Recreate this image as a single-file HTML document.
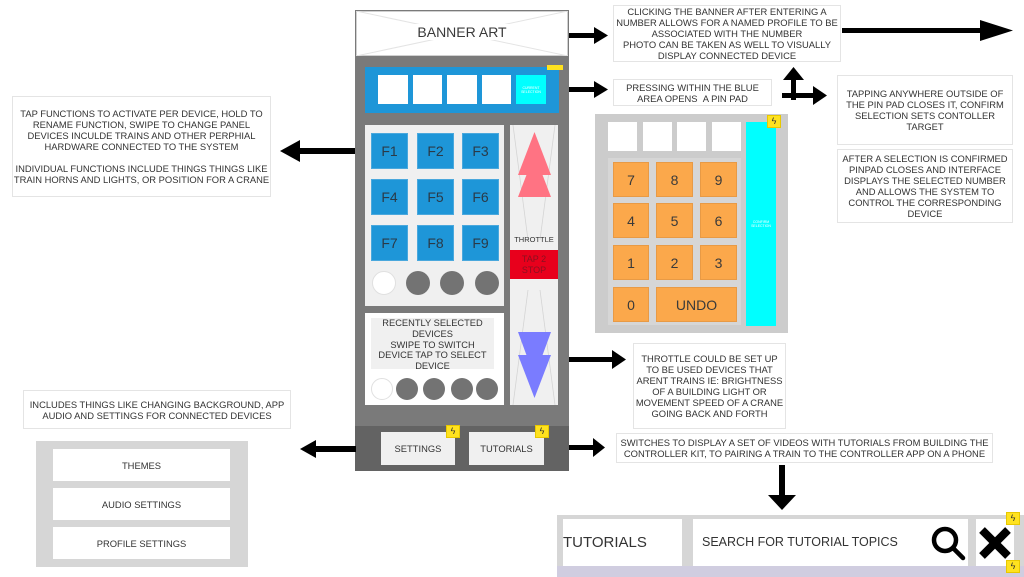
<!DOCTYPE html>
<html><head><meta charset="utf-8"><style>
*{margin:0;padding:0;box-sizing:border-box}
body{width:1024px;height:577px;background:#fff;position:relative;overflow:hidden;font-family:"Liberation Sans",Arial,sans-serif;color:#333}
.a{position:absolute}
.note{position:absolute;background:#fff;border:1px solid #e4e4e4;font-size:9.4px;line-height:11px;text-align:center;display:flex;align-items:center;justify-content:center;color:#333;white-space:nowrap}
.w{position:absolute;background:#fff}
.f{position:absolute;background:#1e96d8;width:37px;height:36px;font-size:14px;display:flex;align-items:center;justify-content:center;color:#2a3a48;border:1px solid #4aa8dd}
.k{position:absolute;background:#fba84b;width:36px;height:35px;font-size:14px;display:flex;align-items:center;justify-content:center;color:#3a3a3a;border:1px solid #e89a45}
.c{position:absolute;border-radius:50%;background:#737373}
.badge{position:absolute;width:14px;height:13px;background:#ffe21f;border:1px solid #e8c800;font-size:9px;line-height:11px;text-align:center;color:#333}
.btn{position:absolute;background:#fff;font-size:9.4px;display:flex;align-items:center;justify-content:center;color:#333}
</style></head><body>

<!-- Phone -->
<div class="a" style="left:355px;top:10px;width:214px;height:461px;background:#7a7a7a"></div>
<div class="a" style="left:356px;top:11px;width:212px;height:45px;background:#fff;border:1px solid #d0d0d0"></div>
<svg class="a" style="left:356px;top:11px" width="212" height="45"><line x1="0" y1="0" x2="212" y2="45" stroke="#e4e4e4"/><line x1="212" y1="0" x2="0" y2="45" stroke="#e4e4e4"/></svg>
<div class="a" style="left:356px;top:24px;width:212px;text-align:center;font-size:14px;color:#3a3a3a;background:transparent"><span style="background:#fff;padding:0 2px">BANNER ART</span></div>

<!-- blue bar -->
<div class="a" style="left:365px;top:67px;width:194px;height:46px;background:#1e96d8"></div>
<div class="w" style="left:378px;top:75px;width:30px;height:29px"></div>
<div class="w" style="left:413px;top:75px;width:29px;height:29px"></div>
<div class="w" style="left:447px;top:75px;width:30px;height:29px"></div>
<div class="w" style="left:482px;top:75px;width:29px;height:29px"></div>
<div class="a" style="left:516px;top:75px;width:30px;height:29px;background:#00ffff;font-size:3.5px;color:#fff;text-align:center;display:flex;align-items:center;justify-content:center;line-height:4px">CURRENT<br>SELECTION</div>
<div class="a" style="left:547px;top:65px;width:16px;height:5px;background:#ffe21f"></div>

<!-- function panel -->
<div class="a" style="left:365px;top:125px;width:139px;height:181px;background:#f0f0f0"></div>
<div class="f" style="left:371px;top:133px">F1</div>
<div class="f" style="left:417px;top:133px">F2</div>
<div class="f" style="left:462px;top:133px">F3</div>
<div class="f" style="left:371px;top:179px">F4</div>
<div class="f" style="left:417px;top:179px">F5</div>
<div class="f" style="left:462px;top:179px">F6</div>
<div class="f" style="left:371px;top:225px">F7</div>
<div class="f" style="left:417px;top:225px">F8</div>
<div class="f" style="left:462px;top:225px">F9</div>
<div class="c" style="left:372px;top:271px;width:24px;height:24px;background:#fff;border:1px solid #e0e0e0"></div>
<div class="c" style="left:406px;top:271px;width:24px;height:24px"></div>
<div class="c" style="left:440px;top:271px;width:24px;height:24px"></div>
<div class="c" style="left:475px;top:271px;width:24px;height:24px"></div>

<!-- recently panel -->
<div class="a" style="left:365px;top:313px;width:139px;height:92px;background:#fff"></div>
<div class="a" style="left:371px;top:318px;width:123px;height:51px;background:#f0f0f0;font-size:9.3px;line-height:10.8px;text-align:center;color:#333;white-space:nowrap">RECENTLY SELECTED<br>DEVICES<br>SWIPE TO SWITCH<br>DEVICE TAP TO SELECT<br>DEVICE</div>
<div class="c" style="left:371px;top:378px;width:22px;height:22px;background:#fff;border:1px solid #e0e0e0"></div>
<div class="c" style="left:396px;top:378px;width:22px;height:22px"></div>
<div class="c" style="left:423px;top:378px;width:22px;height:22px"></div>
<div class="c" style="left:451px;top:378px;width:22px;height:22px"></div>
<div class="c" style="left:476px;top:378px;width:22px;height:22px"></div>

<!-- throttle -->
<div class="a" style="left:510px;top:125px;width:48px;height:280px;background:#f0f0f0"></div>
<svg class="a" style="left:510px;top:125px" width="48" height="280">
<line x1="3" y1="0" x2="18" y2="115" stroke="#d4d4d4" stroke-width="0.8"/>
<line x1="45" y1="0" x2="30" y2="115" stroke="#d4d4d4" stroke-width="0.8"/>
<line x1="18" y1="165" x2="3" y2="280" stroke="#d4d4d4" stroke-width="0.8"/>
<line x1="30" y1="165" x2="45" y2="280" stroke="#d4d4d4" stroke-width="0.8"/>
<polygon points="24.5,7 8,50 41,50" fill="#ff7383"/>
<polygon points="24.5,29 8,72 41,72" fill="#ff7383"/>
<polygon points="8,207 41,207 24.5,252" fill="#7a7cff"/>
<polygon points="8,230 41,230 24.5,273" fill="#7a7cff"/>
</svg>
<div class="a" style="left:510px;top:235px;width:48px;text-align:center;font-size:7.5px;color:#333">THROTTLE</div>
<div class="a" style="left:510px;top:250px;width:48px;height:29px;background:#e8001c;font-size:9px;line-height:10.5px;text-align:center;color:#8a1020;padding-top:4px">TAP 2<br>STOP</div>

<!-- bottom bar -->
<div class="a" style="left:355px;top:426px;width:214px;height:45px;background:#636363"></div>
<div class="btn" style="left:381px;top:432px;width:74px;height:33px;background:#f0f0f0">SETTINGS</div>
<div class="btn" style="left:469px;top:432px;width:75px;height:33px;background:#f0f0f0">TUTORIALS</div>
<div class="badge" style="left:446px;top:425px">ϟ</div>
<div class="badge" style="left:535px;top:425px">ϟ</div>

<!-- arrows -->
<svg class="a" style="left:0;top:0" width="1024" height="577">
<g fill="#000">
<rect x="569" y="33" width="26" height="5"/><polygon points="594,27 608,35.5 594,44"/>
<rect x="842" y="28" width="142" height="5"/><polygon points="980,20 1013,30.5 980,41"/>
<rect x="569" y="87" width="26" height="5"/><polygon points="594,81 608,89.5 594,98"/>
<rect x="791" y="78" width="5" height="22"/><polygon points="783,80 793.5,67 804,80"/>
<rect x="782" y="93" width="32" height="5"/><polygon points="813,86 827,95.5 813,105"/>
<rect x="298" y="148" width="57" height="6"/><polygon points="300,140 280,151 300,162"/>
<rect x="569" y="357" width="44" height="5"/><polygon points="612,350 626,359.5 612,369"/>
<rect x="314" y="446" width="42" height="6"/><polygon points="316,440 300,449 316,458"/>
<rect x="569" y="445" width="25" height="5"/><polygon points="593,438 605,447.5 593,457"/>
<rect x="779" y="465" width="6" height="32"/><polygon points="768,495 782,510 796,495"/>
</g>
</svg>

<!-- notes -->
<div class="note" style="left:613px;top:5px;width:228px;height:57px">CLICKING THE BANNER AFTER ENTERING A<br>NUMBER ALLOWS FOR A NAMED PROFILE TO BE<br>ASSOCIATED WITH THE NUMBER<br>PHOTO CAN BE TAKEN AS WELL TO VISUALLY<br>DISPLAY CONNECTED DEVICE</div>
<div class="note" style="left:613px;top:79px;width:159px;height:27px">PRESSING WITHIN THE BLUE<br>AREA OPENS &nbsp;A PIN PAD</div>
<div class="note" style="left:837px;top:75px;width:176px;height:70px">TAPPING ANYWHERE OUTSIDE OF<br>THE PIN PAD CLOSES IT, CONFIRM<br>SELECTION SETS CONTOLLER<br>TARGET</div>
<div class="note" style="left:837px;top:149px;width:176px;height:74px">AFTER A SELECTION IS CONFIRMED<br>PINPAD CLOSES AND INTERFACE<br>DISPLAYS THE SELECTED NUMBER<br>AND ALLOWS THE SYSTEM TO<br>CONTROL THE CORRESPONDING<br>DEVICE</div>
<div class="note" style="left:12px;top:96px;width:259px;height:101px">TAP FUNCTIONS TO ACTIVATE PER DEVICE, HOLD TO<br>RENAME FUNCTION, SWIPE TO CHANGE PANEL<br>DEVICES INCULDE TRAINS AND OTHER PERPHIAL<br>HARDWARE CONNECTED TO THE SYSTEM<br><br>INDIVIDUAL FUNCTIONS INCLUDE THINGS THINGS LIKE<br>TRAIN HORNS AND LIGHTS, OR POSITION FOR A CRANE</div>
<div class="note" style="left:633px;top:343px;width:153px;height:86px">THROTTLE COULD BE SET UP<br>TO BE USED DEVICES THAT<br>ARENT TRAINS IE: BRIGHTNESS<br>OF A BUILDING LIGHT OR<br>MOVEMENT SPEED OF A CRANE<br>GOING BACK AND FORTH</div>
<div class="note" style="left:23px;top:390px;width:268px;height:39px">INCLUDES THINGS LIKE CHANGING BACKGROUND, APP<br>AUDIO AND SETTINGS FOR CONNECTED DEVICES</div>
<div class="note" style="left:616px;top:433px;width:377px;height:30px">SWITCHES TO DISPLAY A SET OF VIDEOS WITH TUTORIALS FROM BUILDING THE<br>CONTROLLER KIT, TO PAIRING A TRAIN TO THE CONTROLLER APP ON A PHONE</div>

<!-- pinpad -->
<div class="a" style="left:595px;top:114px;width:193px;height:219px;background:#cccccc"></div>
<div class="w" style="left:608px;top:122px;width:29px;height:29px"></div>
<div class="w" style="left:643px;top:122px;width:29px;height:29px"></div>
<div class="w" style="left:677px;top:122px;width:29px;height:29px"></div>
<div class="w" style="left:712px;top:122px;width:29px;height:29px"></div>
<div class="a" style="left:608px;top:158px;width:133px;height:167px;background:#d6d6d6"></div>
<div class="k" style="left:613px;top:162px">7</div>
<div class="k" style="left:656px;top:162px;width:37px">8</div>
<div class="k" style="left:700px;top:162px;width:37px">9</div>
<div class="k" style="left:613px;top:203px">4</div>
<div class="k" style="left:656px;top:203px;width:37px">5</div>
<div class="k" style="left:700px;top:203px;width:37px">6</div>
<div class="k" style="left:613px;top:245px">1</div>
<div class="k" style="left:656px;top:245px;width:37px">2</div>
<div class="k" style="left:700px;top:245px;width:37px">3</div>
<div class="k" style="left:613px;top:287px">0</div>
<div class="k" style="left:656px;top:287px;width:81px">UNDO</div>
<div class="a" style="left:746px;top:122px;width:30px;height:204px;background:#00ffff;font-size:3.5px;line-height:4px;color:#fff;text-align:center;display:flex;align-items:center;justify-content:center">CONFIRM<br>SELECTION</div>
<div class="badge" style="left:767px;top:115px">ϟ</div>

<!-- settings list -->
<div class="a" style="left:36px;top:441px;width:212px;height:126px;background:#d6d6d6"></div>
<div class="btn" style="left:53px;top:449px;width:177px;height:32px">THEMES</div>
<div class="btn" style="left:53px;top:488px;width:177px;height:32px">AUDIO SETTINGS</div>
<div class="btn" style="left:53px;top:527px;width:177px;height:32px">PROFILE SETTINGS</div>

<!-- tutorials bar -->
<div class="a" style="left:557px;top:515px;width:467px;height:62px;background:#d6d6d6"></div>
<div class="a" style="left:557px;top:566px;width:467px;height:11px;background:#d0cde0"></div>
<div class="a" style="left:563px;top:519px;width:119px;height:47px;background:#fff;font-size:15px;line-height:47px;color:#333">TUTORIALS</div>
<div class="a" style="left:693px;top:519px;width:275px;height:47px;background:#fff;font-size:12.5px;line-height:47px;padding-left:9px;color:#333">SEARCH FOR TUTORIAL TOPICS</div>
<svg class="a" style="left:930px;top:525px" width="36" height="36"><circle cx="15" cy="15" r="11" fill="none" stroke="#000" stroke-width="4.5"/><line x1="23" y1="23" x2="33" y2="33" stroke="#000" stroke-width="4.5" stroke-linecap="round"/></svg>
<div class="a" style="left:976px;top:519px;width:38px;height:47px;background:#fff"></div>
<svg class="a" style="left:978px;top:525px" width="34" height="36"><line x1="4" y1="5" x2="30" y2="31" stroke="#000" stroke-width="8"/><line x1="30" y1="5" x2="4" y2="31" stroke="#000" stroke-width="8"/></svg>
<div class="badge" style="left:1006px;top:512px">ϟ</div>
<div class="badge" style="left:1006px;top:560px">ϟ</div>

</body></html>
